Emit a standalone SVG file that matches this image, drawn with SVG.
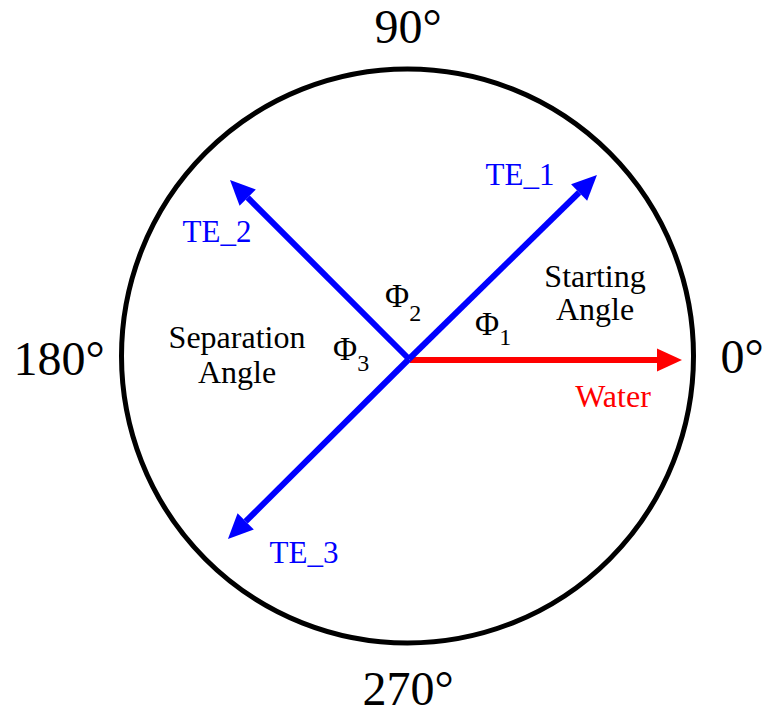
<svg xmlns="http://www.w3.org/2000/svg" width="765" height="713" viewBox="0 0 765 713">
<style>
text{font-family:"Liberation Serif","Times New Roman",serif;}
.deg{font-size:48px;fill:#000;}
.lbl{font-size:32px;fill:#000;}
.te{font-size:31px;fill:#0000FF;}
.phi{font-size:33px;fill:#000;}
.sub{font-size:24px;}
.blue{stroke:#0000FF;stroke-width:6;fill:none;marker-end:url(#ab);}
.red{stroke:#FF0000;stroke-width:6;fill:none;marker-end:url(#ar);}
</style>
<defs>
<marker id="ab" markerUnits="userSpaceOnUse" markerWidth="26" markerHeight="24" refX="0" refY="11.5" orient="auto" overflow="visible"><path d="M0,0 L25,11.5 L0,23 z" fill="#0000FF"/></marker>
<marker id="ar" markerUnits="userSpaceOnUse" markerWidth="26" markerHeight="24" refX="0" refY="11.5" orient="auto" overflow="visible"><path d="M0,0 L25,11.5 L0,23 z" fill="#FF0000"/></marker>
</defs>
<rect width="765" height="713" fill="#fff"/>
<g id="circle"><ellipse cx="407.5" cy="356" rx="286" ry="287" fill="none" stroke="#000" stroke-width="5"/></g>
<g id="connectors">
<line class="red" x1="410" y1="360" x2="657" y2="360"/>
<line class="blue" x1="409" y1="359" x2="579.1" y2="192.5"/>
<line class="blue" x1="409" y1="359" x2="247.7" y2="197.7"/>
<line class="blue" x1="409" y1="359" x2="245.7" y2="521.4"/>
</g>
<g id="deg90"><text class="deg" x="408" y="43" text-anchor="middle">90°</text></g>
<g id="deg180"><text class="deg" x="59" y="375" text-anchor="middle">180°</text></g>
<g id="deg0"><text class="deg" x="742" y="373" text-anchor="middle">0°</text></g>
<g id="deg270"><text class="deg" x="408" y="705" text-anchor="middle">270°</text></g>
<g id="te1"><text class="te" x="520" y="185" text-anchor="middle">TE_1</text></g>
<g id="te2"><text class="te" x="217" y="242" text-anchor="middle">TE_2</text></g>
<g id="te3"><text class="te" x="304" y="563" text-anchor="middle">TE_3</text></g>
<g id="water"><text class="lbl" x="613" y="407" text-anchor="middle" style="fill:#FF0000">Water</text></g>
<g id="starting"><text class="lbl" x="595" y="287" text-anchor="middle">Starting</text><text class="lbl" x="595" y="320" text-anchor="middle">Angle</text></g>
<g id="separation"><text class="lbl" x="237" y="348" text-anchor="middle">Separation</text><text class="lbl" x="237" y="383" text-anchor="middle">Angle</text></g>
<g id="phi1"><text class="phi" x="475" y="335">Φ<tspan class="sub" dy="10">1</tspan></text></g>
<g id="phi2"><text class="phi" x="385" y="307">Φ<tspan class="sub" dy="14">2</tspan></text></g>
<g id="phi3"><text class="phi" x="333" y="360">Φ<tspan class="sub" dy="11">3</tspan></text></g>
</svg>
